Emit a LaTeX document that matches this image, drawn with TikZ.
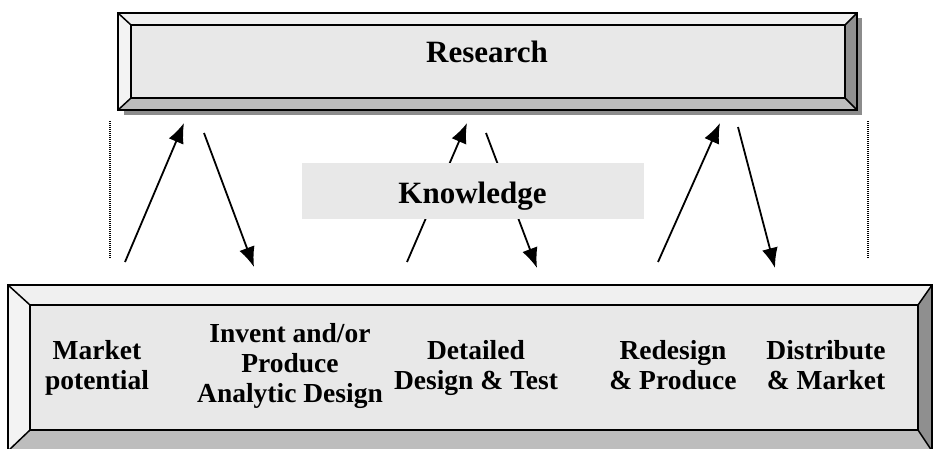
\documentclass[tikz,border=0pt]{standalone}
\usepackage{fontspec}
\setmainfont{Liberation Serif}
\usetikzlibrary{arrows.meta}

\definecolor{facegray}{RGB}{232,232,232}
\definecolor{toplight}{RGB}{240,240,240}
\definecolor{leftlight}{RGB}{243,243,243}
\definecolor{bottomgray}{RGB}{189,189,189}
\definecolor{rightgray}{RGB}{143,143,143}
\definecolor{shadowgray}{RGB}{140,140,140}

\tikzset{
  bevelline/.style={draw=black, line width=1.5pt, line join=miter},
  steplabel/.style={font=\bfseries\fontsize{27.5}{30}\selectfont, align=center, inner sep=0pt},
  titlelabel/.style={font=\bfseries\fontsize{31}{36}\selectfont, inner sep=0pt},
  flow/.style={-{Latex[length=20pt,width=16pt]}, line width=1.8pt},
  sideline/.style={line width=1.2pt, dash pattern=on 1pt off 1pt},
}

% outer x1 y1 x2 y2, inner x1 y1 x2 y2
\newcommand{\bevelframe}[8]{%
  \fill[toplight] (#1,#4) -- (#3,#4) -- (#7,#8) -- (#5,#8) -- cycle;
  \fill[leftlight] (#1,#2) -- (#1,#4) -- (#5,#8) -- (#5,#6) -- cycle;
  \fill[bottomgray] (#1,#2) -- (#3,#2) -- (#7,#6) -- (#5,#6) -- cycle;
  \fill[rightgray] (#3,#2) -- (#3,#4) -- (#7,#8) -- (#7,#6) -- cycle;
  \fill[facegray] (#5,#6) rectangle (#7,#8);
  \draw[bevelline] (#1,#2) rectangle (#3,#4);
  \draw[bevelline] (#5,#6) rectangle (#7,#8);
  \draw[bevelline] (#1,#2) -- (#5,#6) (#3,#2) -- (#7,#6)
                   (#1,#4) -- (#5,#8) (#3,#4) -- (#7,#8);
}

\begin{document}
\begin{tikzpicture}[x=1pt, y=1pt]
    \useasboundingbox (0,0) rectangle (933,448);

    % research bar with shadow
    \fill[shadowgray] (124,333) rectangle (862,430);
    \bevelframe{118}{338}{857}{435}{131}{350}{845}{423}
    \node[titlelabel] (research) at (487,396.5) {Research};

    % process bar
    \bevelframe{8}{-3}{932}{163}{30}{18}{918}{143}
    \node[steplabel] (market)   at (97,80)  {Market\\potential};
    \node[steplabel] (invent)   at (290,82) {Invent and/or\\Produce\\Analytic Design};
    \node[steplabel] (detailed) at (476,80) {Detailed\\Design \& Test};
    \node[steplabel] (redesign) at (673,83) {Redesign\\\& Produce};
    \node[steplabel] (distrib)  at (826,83) {Distribute\\\& Market};

    % dotted side marks
    \coordinate (ltop) at (110,327);
    \coordinate (lbot) at (110,190);
    \coordinate (rtop) at (868,327);
    \coordinate (rbot) at (868,190);
    \draw[sideline] (ltop) -- (lbot);
    \draw[sideline] (rtop) -- (rbot);

    % knowledge flows
    \coordinate (up1s) at (125,186);   \coordinate (up1e) at (184,325);
    \coordinate (dn1s) at (204,315);   \coordinate (dn1e) at (254,181);
    \coordinate (up2s) at (407,186);   \coordinate (up2e) at (467,325);
    \coordinate (dn2s) at (486,315);   \coordinate (dn2e) at (537,180);
    \coordinate (up3s) at (658,186);   \coordinate (up3e) at (720,325);
    \coordinate (dn3s) at (738,321);   \coordinate (dn3e) at (775,180);
    \draw[flow] (up1s) -- (up1e);
    \draw[flow] (dn1s) -- (dn1e);
    \draw[flow] (up2s) -- (up2e);
    \draw[flow] (dn2s) -- (dn2e);
    \draw[flow] (up3s) -- (up3e);
    \draw[flow] (dn3s) -- (dn3e);

    \fill[facegray] (302,229) rectangle (644,285);
    \node[titlelabel] (knowledge) at (472.5,252) {Knowledge};
\end{tikzpicture}
\end{document}
